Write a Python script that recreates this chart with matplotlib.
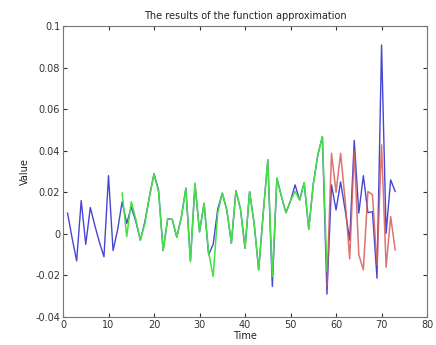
import matplotlib
matplotlib.use("Agg")
import matplotlib.pyplot as plt
from matplotlib.ticker import FixedLocator, FixedFormatter

# Actual series (blue), t = 1..73
t_actual = list(range(1, 74))
actual = [0.010, -0.002, -0.013, 0.016, -0.005, 0.0127, 0.004, -0.004, -0.011, 0.028,
          -0.008, 0.002, 0.0155, 0.005, 0.013, 0.006, -0.003, 0.006, 0.018, 0.029,
          0.021, -0.008, 0.0072, 0.007, -0.0016, 0.008, 0.022, -0.013, 0.024, 0.001,
          0.0147, -0.010, -0.005, 0.012, 0.0196, 0.0115, -0.0045, 0.0208, 0.012, -0.0069,
          0.0203, 0.005, -0.0173, 0.010, 0.0356, -0.0253, 0.0268, 0.018, 0.0102, 0.016,
          0.0236, 0.0163, 0.0247, 0.0023, 0.024, 0.038, 0.0468, -0.0290, 0.0236, 0.0115,
          0.025, 0.0115, -0.003, 0.045, 0.010, 0.028, 0.0102, 0.0107, -0.0213, 0.0909,
          0.0003, 0.026, 0.0204]

# Training approximation (green), t = 13..58
t_train = list(range(13, 59))
train = [0.0196, -0.0013, 0.0155, 0.007, -0.003, 0.005, 0.018, 0.0289, 0.020, -0.008,
         0.0072, 0.007, -0.0016, 0.008, 0.022, -0.0133, 0.0244, 0.001, 0.0147, -0.009,
         -0.0205, 0.010, 0.0196, 0.0115, -0.0045, 0.0208, 0.012, -0.0069, 0.0203, 0.005,
         -0.0173, 0.010, 0.0356, -0.0205, 0.0268, 0.018, 0.0102, 0.016, 0.0204, 0.0163,
         0.0247, 0.0023, 0.024, 0.038, 0.0468, -0.018]

# Prediction (red), t = 58..73
t_pred = list(range(58, 74))
pred = [-0.025, 0.0388, 0.020, 0.0388, 0.016, -0.012, 0.040, -0.010, -0.0173, 0.0204,
        0.0188, -0.015, 0.0428, -0.016, 0.0083, -0.0077]

xticks = [0, 10, 20, 30, 40, 50, 60, 70, 80]
yticks = [-0.04, -0.02, 0, 0.02, 0.04, 0.06, 0.08, 0.1]
ytick_labels = ["-0.04", "-0.02", "0", "0.02", "0.04", "0.06", "0.08", "0.1"]

fig = plt.figure(figsize=(4.36, 3.45), dpi=100)
ax = fig.add_axes([0.1445, 0.081, 0.835, 0.8436])

ax.plot(t_actual, actual, color="#4646d4", lw=1.0, zorder=2)
ax.plot(t_train, train, color="#44e044", lw=1.1, zorder=3)
ax.plot(t_pred, pred, color="#d85a5a", lw=1.1, alpha=0.85, zorder=4)

ax.set_xlim(0, 80)
ax.set_ylim(-0.04, 0.1)
ax.xaxis.set_major_locator(FixedLocator(xticks))
ax.yaxis.set_major_locator(FixedLocator(yticks))
ax.yaxis.set_major_formatter(FixedFormatter(ytick_labels))
ax.tick_params(direction="in", top=True, right=True, length=3, width=0.8,
               labelsize=7, colors="#333333", pad=2)
for s in ax.spines.values():
    s.set_color("#777777")
    s.set_linewidth(0.8)

ax.set_title("The results of the function approximation", fontsize=7, color="#222222", pad=5)
ax.set_xlabel("Time", fontsize=7, color="#222222", labelpad=1)
ax.set_ylabel("Value", fontsize=7, color="#222222", labelpad=4)

fig.savefig("out.png", dpi=100)
